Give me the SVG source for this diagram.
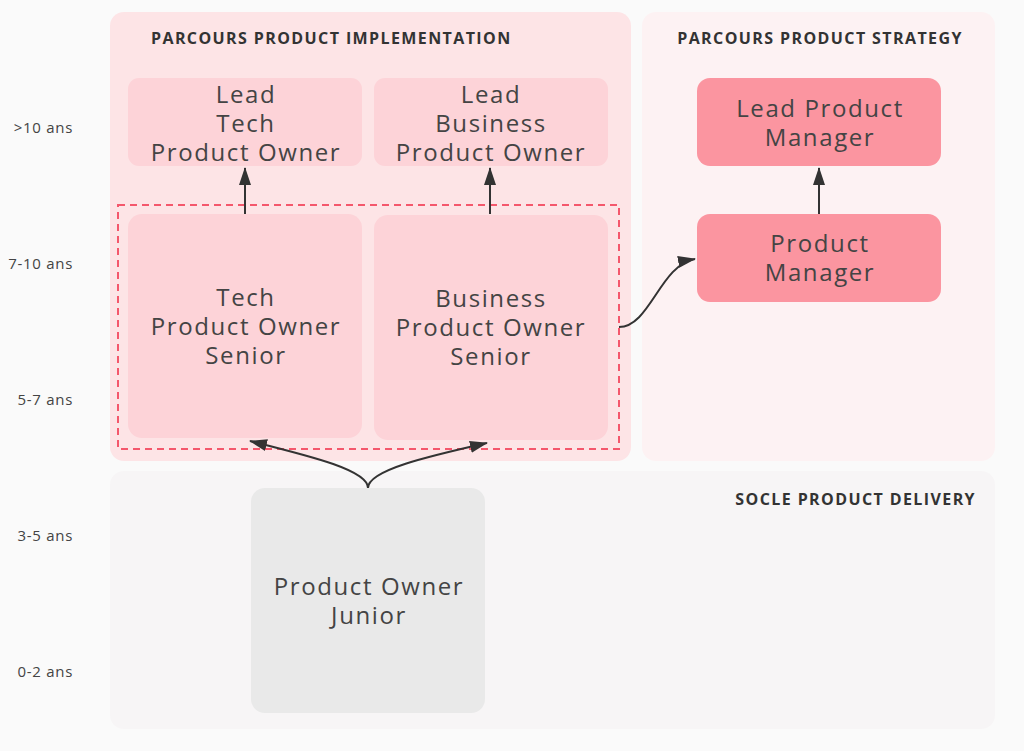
<svg xmlns="http://www.w3.org/2000/svg" width="1024" height="751" viewBox="0 0 1024 751">
<style>
.t{font-family:"Open Sans","DejaVu Sans",sans-serif;font-size:24px;fill:#444;text-anchor:middle;letter-spacing:1.6px}
.h{font-family:"Open Sans","DejaVu Sans",sans-serif;font-size:16px;font-weight:700;fill:#333;letter-spacing:1.4px}
.y{font-family:"Open Sans","DejaVu Sans",sans-serif;font-size:15px;fill:#444;text-anchor:end;letter-spacing:0.7px}
.pl{fill:#fdd3d8}
.pm{fill:#fb95a0}
.c{fill:none;stroke:#333;stroke-width:2}
</style>
<defs>
<marker id="ahb" markerWidth="20" markerHeight="20" refX="17" refY="10" orient="auto" markerUnits="userSpaceOnUse" viewBox="0 0 20 20">
<path d="M0,4 L18,10 L0,16 z" fill="#333"/>
</marker>
</defs>
<rect width="1024" height="751" fill="#fafafa"/>
<g id="panels">
<rect x="110" y="12" width="521" height="449" rx="14" fill="#fde4e6"/>
<rect x="642" y="12" width="353" height="449" rx="14" fill="#fdf2f3"/>
<rect x="110" y="471" width="885" height="258" rx="14" fill="#f7f5f6"/>
<text class="h" x="151" y="44">PARCOURS PRODUCT IMPLEMENTATION</text>
<text class="h" x="820" y="44" text-anchor="middle">PARCOURS PRODUCT STRATEGY</text>
<text class="h" x="976" y="505" text-anchor="end">SOCLE PRODUCT DELIVERY</text>
</g>
<g id="axis">
<text class="y" x="73" y="133">&gt;10 ans</text>
<text class="y" x="73" y="269">7-10 ans</text>
<text class="y" x="73" y="405">5-7 ans</text>
<text class="y" x="73" y="541">3-5 ans</text>
<text class="y" x="73" y="677">0-2 ans</text>
</g>
<g id="lead-tech-po">
<rect class="pl" x="128" y="78" width="234" height="88" rx="11"/>
<text class="t" x="245" y="103"><tspan x="246">Lead</tspan><tspan x="246" dy="29">Tech</tspan><tspan x="246" dy="29">Product Owner</tspan></text>
</g>
<g id="lead-business-po">
<rect class="pl" x="374" y="78" width="234" height="88" rx="11"/>
<text class="t" x="490" y="103"><tspan x="491">Lead</tspan><tspan x="491" dy="29">Business</tspan><tspan x="491" dy="29">Product Owner</tspan></text>
</g>
<g id="senior-group">
<rect x="118" y="205" width="501" height="244" fill="none" stroke="#f4576c" stroke-width="2" stroke-dasharray="7 5"/>
</g>
<g id="tech-po-senior">
<rect class="pl" x="128" y="214" width="234" height="224" rx="14"/>
<text class="t" x="245" y="306"><tspan x="246">Tech</tspan><tspan x="246" dy="29">Product Owner</tspan><tspan x="246" dy="29">Senior</tspan></text>
</g>
<g id="business-po-senior">
<rect class="pl" x="374" y="215" width="234" height="225" rx="14"/>
<text class="t" x="490" y="307"><tspan x="491">Business</tspan><tspan x="491" dy="29">Product Owner</tspan><tspan x="491" dy="29">Senior</tspan></text>
</g>
<g id="lead-product-manager">
<rect class="pm" x="697" y="78" width="244" height="88" rx="13"/>
<text class="t" x="819" y="117"><tspan x="820">Lead Product</tspan><tspan x="820" dy="29">Manager</tspan></text>
</g>
<g id="product-manager">
<rect class="pm" x="697" y="214" width="244" height="88" rx="13"/>
<text class="t" x="819" y="252"><tspan x="820">Product</tspan><tspan x="820" dy="29">Manager</tspan></text>
</g>
<g id="po-junior">
<rect x="251" y="488" width="234" height="225" rx="14" fill="#e9e9e9"/>
<text class="t" x="368" y="595"><tspan x="369">Product Owner</tspan><tspan x="369" dy="29">Junior</tspan></text>
</g>
<g id="connectors">
<path class="c" d="M245,214 L245,168" marker-end="url(#ahb)"/>
<path class="c" d="M490,214 L490,168" marker-end="url(#ahb)"/>
<path class="c" d="M819,214 L819,168" marker-end="url(#ahb)"/>
<path class="c" d="M619,327 C650,327 660,265 695,259" marker-end="url(#ahb)"/>
<path class="c" d="M368,488 C368,470 310,456 250,441" marker-end="url(#ahb)"/>
<path class="c" d="M368,488 C368,470 430,456 487,443" marker-end="url(#ahb)"/>
</g>
</svg>
